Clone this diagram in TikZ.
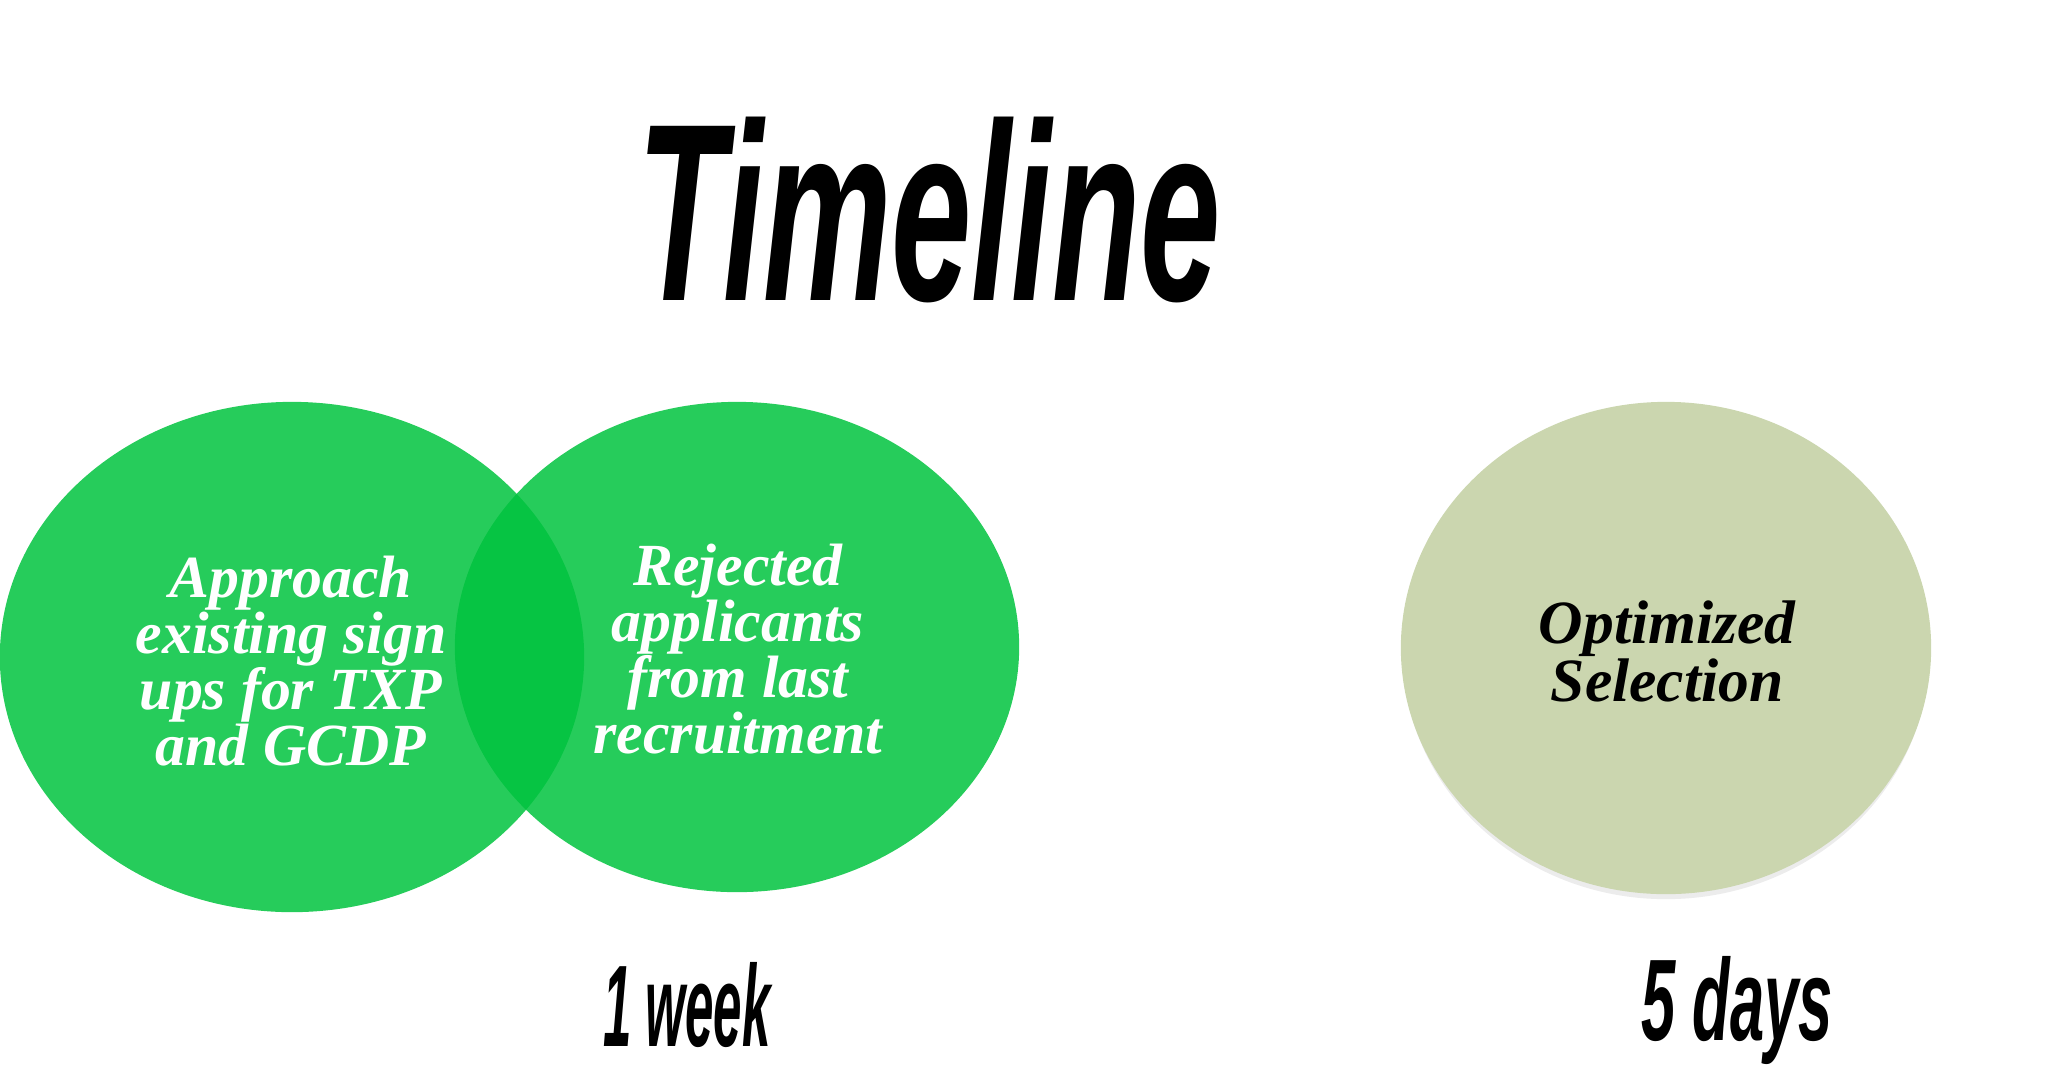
\documentclass[tikz,border=0pt]{standalone}
\usepackage{fontspec}
\setmainfont{Liberation Serif}
\newfontfamily\brush{Liberation Sans}
\usetikzlibrary{shapes.geometric}
\definecolor{vgreen}{RGB}{0,195,62}
\definecolor{sage}{RGB}{203,214,175}
\tikzset{
  x=0.01cm, y=-0.01cm,
  blob/.style={ellipse, inner sep=0pt, fill=vgreen, fill opacity=0.85},
  sageblob/.style={ellipse, inner sep=0pt, fill=sage},
  shade/.style={ellipse, inner sep=0pt, fill=black!25, fill opacity=0.3},
  wlabel/.style={align=center, text=white, font=\fontsize{17}{16}\selectfont\bfseries\itshape},
  blabel/.style={align=center, text=black, font=\fontsize{17.5}{16.5}\selectfont\bfseries\itshape},
  script/.style={inner sep=0pt, font=\brush\bfseries\itshape}
}
\begin{document}
\begin{tikzpicture}
\useasboundingbox (0,0) rectangle (2048,1084);
% shadow
\node[shade, minimum width=5.26cm, minimum height=4.92cm] at (1666,653) {};
% ellipses
\node[blob, minimum width=5.84cm, minimum height=5.10cm] (left) at (292,657) {};
\node[blob, minimum width=5.64cm, minimum height=4.90cm] (mid) at (737,647) {};
\node[sageblob, minimum width=5.30cm, minimum height=4.92cm] (right) at (1666,648) {};
% labels
\node[wlabel] (ltext) at (291,661) {Approach\\existing sign\\ups for TXP\\and GCDP};
\node[wlabel] (mtext) at (738,649) {Rejected\\applicants\\from last\\recruitment};
\node[blabel] (rtext) at (1667,651) {Optimized\\Selection};
% title and durations
\node[script, font=\brush\bfseries\itshape\fontsize{72}{72}\selectfont, xscale=0.57, anchor=base] (title) at (929,300) {Timeline};
\node[script, font=\brush\bfseries\itshape\fontsize{33}{33}\selectfont, xscale=0.44, anchor=base] (week) at (687,1046) {1 week};
\node[script, font=\brush\bfseries\itshape\fontsize{33}{33}\selectfont, xscale=0.53, anchor=base] (days) at (1737,1040) {5 days};
\end{tikzpicture}
\end{document}
